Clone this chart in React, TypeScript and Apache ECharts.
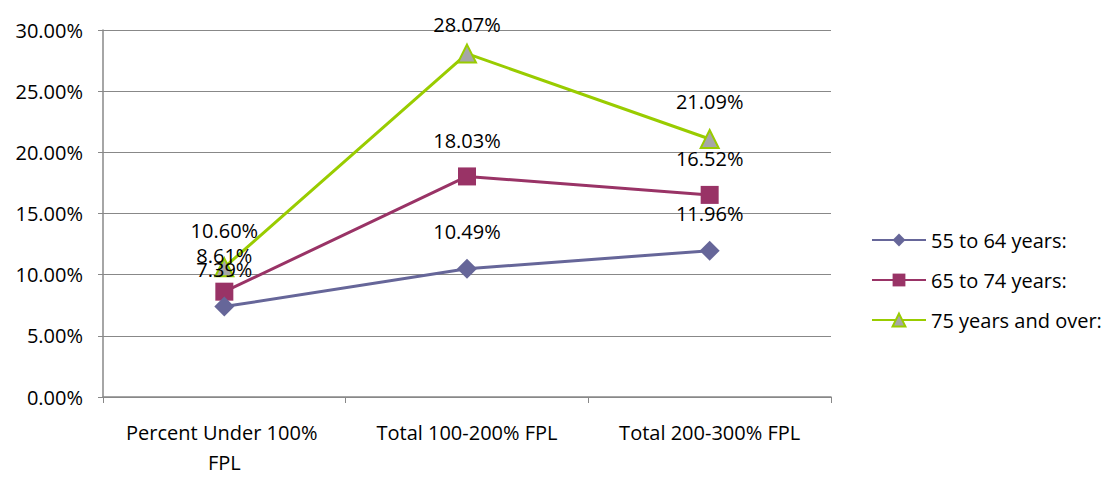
import React, { useEffect, useRef } from "react";
import * as echarts from "echarts";

const categories = ["Percent Under 100% FPL", "Total 100-200% FPL", "Total 200-300% FPL"];
const seriesNames = ["55 to 64 years:", "65 to 74 years:", "75 years and over:"];
const s55to64 = [7.39, 10.49, 11.96];
const s65to74 = [8.61, 18.03, 16.52];
const s75plus = [10.6, 28.07, 21.09];
const yTicks = { min: 0, max: 30, interval: 5 };

const FONT = "'Open Sans', 'Noto Sans', sans-serif";
const FS = 20;

export default function App() {
  const ref = useRef<HTMLDivElement>(null);
  useEffect(() => {
    if (!ref.current) return;
    const chart = echarts.init(ref.current, null, { renderer: "svg" });
    const label = {
      show: true,
      position: "top" as const,
      distance: 17,
      color: "#000",
      fontSize: FS,
      fontFamily: FONT,
      formatter: (p: any) => Number(p.value).toFixed(2) + "%",
    };
    const toItems = (arr: number[]) =>
      arr.map((v) => (v > 27 ? { value: v, label: { distance: 9 } } : v));
    chart.setOption({
      animation: false,
      backgroundColor: "#fff",
      grid: { left: 103, right: 288, top: 30, bottom: 76, containLabel: false },
      legend: {
        orient: "vertical",
        left: 866,
        top: 225,
        itemWidth: 54,
        itemHeight: 16,
        itemGap: 20,
        textStyle: { fontSize: FS, fontFamily: FONT, color: "#000" },
        data: seriesNames,
      },
      xAxis: {
        type: "category",
        data: categories,
        boundaryGap: true,
        axisLine: { lineStyle: { color: "#888", width: 1.5 } },
        axisTick: { show: true, length: 6, lineStyle: { color: "#888" }, alignWithLabel: false },
        axisLabel: {
          color: "#000",
          fontSize: FS,
          fontFamily: FONT,
          margin: 20,
          lineHeight: 30,
          width: 220,
          overflow: "break",
          interval: 0,
        },
      },
      yAxis: {
        type: "value",
        min: yTicks.min,
        max: yTicks.max,
        interval: yTicks.interval,
        axisLine: { show: true, lineStyle: { color: "#888", width: 1.5 } },
        axisTick: { show: true, length: 5, lineStyle: { color: "#888" } },
        splitLine: { show: true, lineStyle: { color: "#888", width: 1 } },
        axisLabel: {
          color: "#000",
          fontSize: FS,
          fontFamily: FONT,
          margin: 20,
          formatter: (v: number) => v.toFixed(2) + "%",
        },
      },
      series: [
        {
          name: seriesNames[2],
          type: "line",
          data: toItems(s75plus),
          symbol: "triangle",
          symbolSize: 18,
          lineStyle: { color: "#99cc00", width: 3 },
          itemStyle: { color: "#a6a6a6", borderColor: "#99cc00", borderWidth: 2 },
          label,
          z: 2,
        },
        {
          name: seriesNames[1],
          type: "line",
          data: toItems(s65to74),
          symbol: "rect",
          symbolSize: 18,
          lineStyle: { color: "#993366", width: 3 },
          itemStyle: { color: "#993366" },
          label,
          z: 3,
        },
        {
          name: seriesNames[0],
          type: "line",
          data: toItems(s55to64),
          symbol: "diamond",
          symbolSize: 20,
          lineStyle: { color: "#666699", width: 3 },
          itemStyle: { color: "#666699" },
          label,
          z: 4,
        },
      ],
    });
    return () => chart.dispose();
  }, []);
  return <div ref={ref} style={{ width: 1119, height: 477, position: "absolute", left: 0, top: 0 }} />;
}
